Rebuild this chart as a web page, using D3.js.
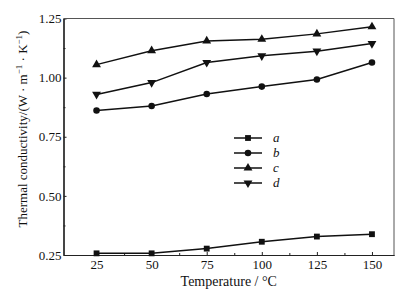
<!DOCTYPE html>
<html>
<head>
<meta charset="utf-8">
<script src="https://cdn.jsdelivr.net/npm/d3@7"></script>
<style>
  body { margin: 0; background: #fff; }
  text { font-family: "Liberation Serif", "DejaVu Serif", serif; fill: #111; }
</style>
</head>
<body>
<svg id="chart" width="419" height="298"></svg>
<script>
// data
let temps = [25, 50, 75, 100, 125, 150]
let seriesA = [0.257, 0.257, 0.277, 0.306, 0.328, 0.338]
let seriesB = [0.861, 0.880, 0.931, 0.962, 0.992, 1.064]
let seriesC = [1.055, 1.114, 1.155, 1.162, 1.185, 1.215]
let seriesD = [0.929, 0.979, 1.064, 1.092, 1.112, 1.144]
let seriesNames = ["a", "b", "c", "d"]
let xTicks = [25, 50, 75, 100, 125, 150]
let yTicks = [0.25, 0.50, 0.75, 1.00, 1.25]

let margin = { left: 63.5, top: 18.5, right: 25, bottom: 43 }
let width = 419, height = 298

let svg = d3.select("#chart")

let xScale = d3.scaleLinear().domain([10, 160]).range([margin.left, width - margin.right])
let yScale = d3.scaleLinear().domain([0.25, 1.25]).range([height - margin.bottom, margin.top])

// axes, ticks pointing inward
let xAxis = svg.append("g")
    .attr("transform", "translate(0," + (height - margin.bottom) + ")")
    .call(d3.axisBottom(xScale).tickValues(xTicks).tickSizeInner(-3).tickSizeOuter(0).tickPadding(5))
let xMinor = svg.append("g")
    .attr("transform", "translate(0," + (height - margin.bottom) + ")")
    .call(d3.axisBottom(xScale).tickValues([37.5, 62.5, 87.5, 112.5, 137.5]).tickSizeInner(-2).tickSizeOuter(0).tickFormat(""))
let yAxis = svg.append("g")
    .attr("transform", "translate(" + margin.left + ",0)")
    .call(d3.axisLeft(yScale).tickValues(yTicks).tickFormat(d3.format(".2f")).tickSizeInner(-3).tickSizeOuter(0).tickPadding(2))
let yMinor = svg.append("g")
    .attr("transform", "translate(" + margin.left + ",0)")
    .call(d3.axisLeft(yScale).tickValues([0.375, 0.625, 0.875, 1.125]).tickSizeInner(-2).tickSizeOuter(0).tickFormat(""))

svg.selectAll(".domain").attr("stroke", "#222").attr("stroke-width", 1.2)
svg.selectAll(".tick line").attr("stroke", "#222")
svg.selectAll(".tick text").attr("font-size", "13px").attr("font-family", "Liberation Serif")

// frame top and right
svg.append("path")
    .attr("d", "M" + margin.left + "," + margin.top + "H" + (width - margin.right) + "V" + (height - margin.bottom))
    .attr("fill", "none").attr("stroke", "#555").attr("stroke-width", 1)

// axis titles
svg.append("text")
    .attr("x", (margin.left + width - margin.right) / 2)
    .attr("y", 286)
    .attr("text-anchor", "middle")
    .attr("font-size", "14px")
    .text("Temperature / \u00b0C")

let yTitle = svg.append("text")
    .attr("transform", "translate(27,129) rotate(-90)")
    .attr("text-anchor", "middle")
    .attr("font-size", "13px")
yTitle.append("tspan").text("Thermal conductivity/(W \u00b7 m")
yTitle.append("tspan").attr("dy", -5).attr("font-size", "9px").text("\u22121")
yTitle.append("tspan").attr("dy", 5).text(" \u00b7 K")
yTitle.append("tspan").attr("dy", -5).attr("font-size", "9px").text("\u22121")
yTitle.append("tspan").attr("dy", 5).text(")")

// series
let allSeries = [seriesA, seriesB, seriesC, seriesD]
let symbols = [d3.symbolSquare, d3.symbolCircle, d3.symbolTriangle, d3.symbolTriangle]
let symSize = [34, 34, 34, 34]
let line = d3.line()
    .x(function (d, i) { return xScale(temps[i]) })
    .y(function (d) { return yScale(d) })

allSeries.forEach(function (s, k) {
    svg.append("path")
        .datum(s)
        .attr("d", line)
        .attr("fill", "none")
        .attr("stroke", "#111")
        .attr("stroke-width", 1.5)
    svg.append("g").selectAll("path")
        .data(s)
        .enter().append("path")
        .attr("d", d3.symbol().type(symbols[k]).size(symSize[k]))
        .attr("transform", function (d, i) {
            return "translate(" + xScale(temps[i]) + "," + yScale(d) + ")" + (k == 3 ? " rotate(180)" : "")
        })
        .attr("fill", "#111")
})

// legend
let legend = svg.append("g").attr("transform", "translate(234,138)")
seriesNames.forEach(function (n, k) {
    let row = legend.append("g").attr("transform", "translate(0," + (k * 15) + ")")
    row.append("line").attr("x1", 0).attr("x2", 28).attr("stroke", "#111").attr("stroke-width", 1.5)
    row.append("path")
        .attr("d", d3.symbol().type(symbols[k]).size(symSize[k]))
        .attr("transform", "translate(14,0)" + (k == 3 ? " rotate(180)" : ""))
        .attr("fill", "#111")
    row.append("text")
        .attr("x", 39).attr("y", 4)
        .attr("font-size", "13px")
        .attr("font-style", "italic")
        .text(n)
})
</script>
</body>
</html>
